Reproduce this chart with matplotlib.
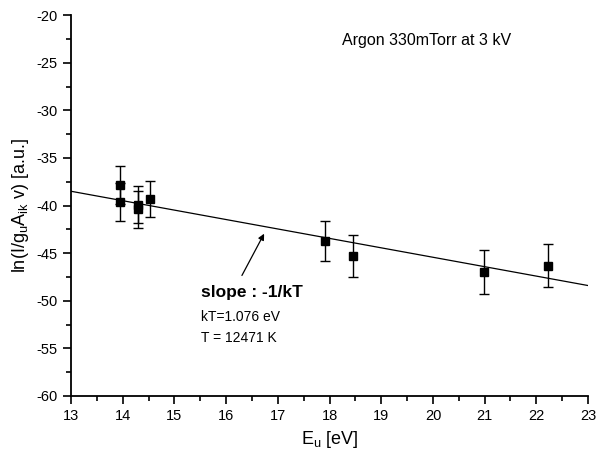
import numpy as np
import matplotlib.pyplot as plt
from matplotlib.ticker import MultipleLocator

plt.rcParams['font.family'] = ['Liberation Sans', 'DejaVu Sans']
plt.rcParams['axes.unicode_minus'] = False

# data
energy = [13.95, 13.95, 14.30, 14.30, 14.53, 17.91, 18.46, 20.99, 22.23]
ln_int = [-37.8, -39.6, -39.9, -40.4, -39.3, -43.7, -45.3, -47.0, -46.3]
err = [2.0, 2.0, 1.95, 1.95, 1.9, 2.1, 2.25, 2.3, 2.25]

# fitted line end points
fit_x = [13, 23]
fit_y = [-38.5, -48.4]

fig = plt.figure(figsize=(5.97, 4.58), dpi=100)
ax = fig.add_axes([0.119, 0.1354, 0.866, 0.8316])

ax.plot(fit_x, fit_y, color='black', lw=0.9)
ax.errorbar(energy, ln_int, yerr=err, fmt='s', color='black', ms=6,
            ecolor='black', elinewidth=1.0, capsize=3.5, capthick=1.0)

ax.set_xlim(13, 23)
ax.set_ylim(-60, -20)
ax.xaxis.set_major_locator(MultipleLocator(1))
ax.xaxis.set_minor_locator(MultipleLocator(0.5))
ax.yaxis.set_major_locator(MultipleLocator(5))
ax.yaxis.set_minor_locator(MultipleLocator(2.5))
ax.tick_params(which='major', direction='out', length=6, width=1.2, labelsize=10.5)
ax.tick_params(which='minor', direction='out', length=3.5, width=1.2)
ax.spines['top'].set_visible(False)
ax.spines['right'].set_visible(False)
ax.spines['left'].set_linewidth(1.3)
ax.spines['bottom'].set_linewidth(1.3)

ax.set_xlabel('E$_\\mathregular{u}$ [eV]', fontsize=13)
ax.set_ylabel('ln(I/g$_\\mathregular{u}$A$_\\mathregular{ik}$ v) [a.u.]', fontsize=13)

ax.text(18.25, -23.1, 'Argon 330mTorr at 3 kV', fontsize=11.5)
ax.annotate('', xy=(16.76, -42.7), xytext=(16.28, -47.6),
            arrowprops=dict(arrowstyle='-|>', color='black', lw=0.9,
                            mutation_scale=9))
ax.text(15.52, -49.1, 'slope : -1/kT', fontsize=12.5, fontweight='bold', va='center')
ax.text(15.52, -51.7, 'kT=1.076 eV', fontsize=10, va='center')
ax.text(15.52, -53.9, 'T = 12471 K', fontsize=10, va='center')

fig.savefig('out.png', dpi=100)
